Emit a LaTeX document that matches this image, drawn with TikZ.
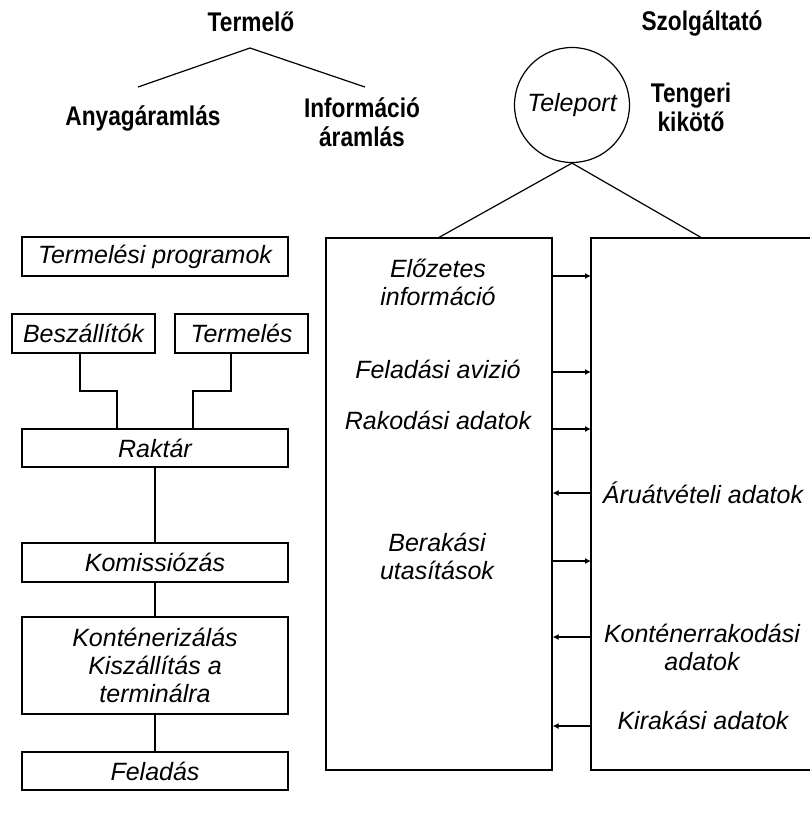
\documentclass[tikz,border=0pt]{standalone}
\usepackage{fontspec}
\setmainfont{Liberation Sans}
\newfontfamily\condbold[FakeStretch=0.84]{Liberation Sans}
\usetikzlibrary{arrows.meta}
\tikzset{
  box/.style={draw, line width=1.2pt, inner sep=0pt, align=center,
    font=\fontsize{25}{28}\selectfont\itshape},
  lbl/.style={inner sep=0pt, align=center, font=\condbold\fontsize{27}{29}\selectfont\bfseries},
  itx/.style={inner sep=0pt, align=center, font=\fontsize{25}{28}\selectfont\itshape},
  conn/.style={line width=1.2pt},
  arr/.style={line width=1.2pt, -{Latex[length=6pt,width=6pt]}}
}
\begin{document}
\begin{tikzpicture}[x=1pt,y=-1pt]
\useasboundingbox (0,0) rectangle (810,815);
% top labels
\node[lbl] (termelo) at (251,22) {Termelő};
\node[lbl] (anyag) at (143,118) {Anyagáramlás};
\node[lbl] (info) at (362,122) {Információ\\áramlás};
\node[lbl] (szolg) at (702,23) {Szolgáltató};
\node[lbl] (tenger) at (691,107) {Tengeri\\kikötő};
\coordinate (apex) at (250,48);
\coordinate (le) at (138,87);
\coordinate (re) at (365,87);
\draw[conn] (le) -- (apex) -- (re);
% teleport circle
\node[draw, circle, line width=1.2pt, minimum size=115pt, inner sep=0pt,
  font=\fontsize{25}{28}\selectfont\itshape] (tp) at (572,105) {Teleport};
% left column
\node[box, minimum width=266pt, minimum height=39pt] (prog) at (155,256.5) {Termelési programok};
\node[box, minimum width=143pt, minimum height=39pt] (bes) at (83.5,333.5) {Beszállítók};
\node[box, minimum width=133pt, minimum height=39pt] (term) at (241.5,333.5) {Termelés};
\node[box, minimum width=266pt, minimum height=38pt] (rak) at (155,448) {Raktár};
\node[box, minimum width=266pt, minimum height=39pt] (kom) at (155,562.5) {Komissiózás};
\node[box, minimum width=266pt, minimum height=97pt] (kont) at (155,665.5) {Konténerizálás\\Kiszállítás a\\terminálra};
\node[box, minimum width=266pt, minimum height=38pt] (fel) at (155,771) {Feladás};
\coordinate (b1) at (80,391);
\coordinate (b2) at (117,391);
\coordinate (t1) at (231,391);
\coordinate (t2) at (193,391);
\draw[conn] (bes.south -| b1) -- (b1) -- (b2) -- (rak.north -| b2);
\draw[conn] (term.south -| t1) -- (t1) -- (t2) -- (rak.north -| t2);
\draw[conn] (rak.south) -- (kom.north);
\draw[conn] (kom.south) -- (kont.north);
\draw[conn] (kont.south) -- (fel.north);
% big boxes
\node[box, minimum width=226pt, minimum height=532pt] (lb) at (439,504) {};
% right box: open on the right, runs off the page
\coordinate (rtr) at (840,238);
\coordinate (rtl) at (591,238);
\coordinate (rbl) at (591,770);
\coordinate (rbr) at (840,770);
\draw[conn] (rtr) -- (rtl) -- (rbl) -- (rbr);
\coordinate (topjoin) at (702,238);
\draw[conn] (tp.south) -- (lb.north);
\draw[conn] (tp.south) -- (topjoin);
% texts in left box
\node[itx] (elo) at (438,282) {Előzetes\\információ};
\node[itx] (avi) at (438,369) {Feladási avizió};
\node[itx] (rako) at (438,420) {Rakodási adatok};
\node[itx] (bera) at (437,556) {Berakási\\utasítások};
% texts in right box
\node[itx] (aru) at (703,493) {Áruátvételi adatok};
\node[itx] (ktr) at (702,647) {Konténerrakodási\\adatok};
\node[itx] (kir) at (703,720) {Kirakási adatok};
% arrows
\coordinate (y1) at (0,276);
\coordinate (y2) at (0,372);
\coordinate (y3) at (0,429);
\coordinate (y4) at (0,493);
\coordinate (y5) at (0,561);
\coordinate (y6) at (0,637);
\coordinate (y7) at (0,726);
\draw[arr] (lb.east |- y1) -- (rtl |- y1);
\draw[arr] (lb.east |- y2) -- (rtl |- y2);
\draw[arr] (lb.east |- y3) -- (rtl |- y3);
\draw[arr] (rtl |- y4) -- (lb.east |- y4);
\draw[arr] (lb.east |- y5) -- (rtl |- y5);
\draw[arr] (rtl |- y6) -- (lb.east |- y6);
\draw[arr] (rtl |- y7) -- (lb.east |- y7);
\end{tikzpicture}
\end{document}
